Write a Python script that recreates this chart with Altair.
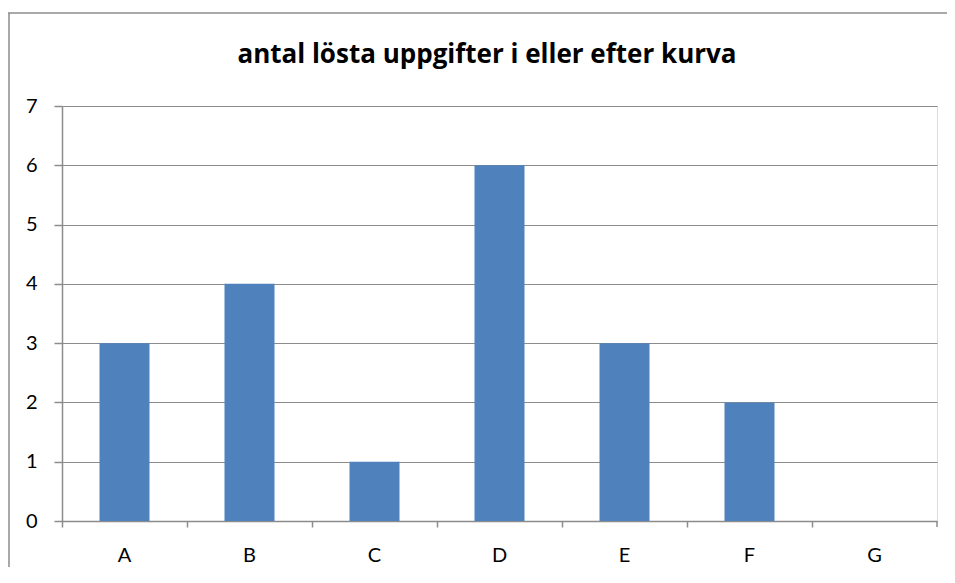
import altair as alt
import pandas as pd

categories = ["A", "B", "C", "D", "E", "F", "G"]
values = [3, 4, 1, 6, 3, 2, 0]
title_text = "antal lösta uppgifter i eller efter kurva"

df = pd.DataFrame({"kategori": categories, "antal": values})

GRAY = "#8c8c8c"
FONT = "Lato"

bars = alt.Chart(df).mark_bar(
    color="#4F81BD", width=alt.RelativeBandSize(0.4)
).encode(
    x=alt.X(
        "kategori:N",
        sort=categories,
        scale=alt.Scale(paddingInner=0, paddingOuter=0),
        axis=alt.Axis(
            title=None, labelAngle=0, bandPosition=0,
            tickSize=6, tickColor=GRAY, domainColor=GRAY, domainWidth=1.5,
            tickWidth=1.5, labelPadding=18, labelFontSize=20, labelFont=FONT,
            labelColor="black", grid=False,
        ),
    ),
    y=alt.Y(
        "antal:Q",
        scale=alt.Scale(domain=[0, 7], nice=False),
        axis=alt.Axis(
            title=None, values=[0, 1, 2, 3, 4, 5, 6, 7], format="d",
            tickSize=8, tickColor=GRAY, domainColor=GRAY, domainWidth=1.5,
            tickWidth=1.5, gridColor=GRAY, gridWidth=1.2, labelPadding=17,
            labelFontSize=20, labelFont=FONT, labelColor="black",
        ),
    ),
)

extra = pd.DataFrame({"a": [0], "t": [title_text]})
last_tick = alt.Chart(extra).mark_rule(color=GRAY, strokeWidth=1.5).encode(
    x=alt.value(875), y=alt.value(415), y2=alt.value(421)
)
border_top = alt.Chart(extra).mark_rule(color=GRAY, strokeWidth=1.5).encode(
    x=alt.value(-54), x2=alt.value(890), y=alt.value(-93)
)
border_left = alt.Chart(extra).mark_rule(color=GRAY, strokeWidth=1.5).encode(
    x=alt.value(-53), y=alt.value(-93), y2=alt.value(470)
)
title = alt.Chart(extra).mark_text(
    font="Open Sans", fontSize=26, fontWeight="bold", color="black",
    align="center", baseline="alphabetic",
).encode(
    x=alt.value(425), y=alt.value(-43), text="t:N"
)

chart = alt.layer(border_top, border_left, bars, last_tick, title).properties(
    width=875,
    height=415,
    padding={"left": 54, "top": 98, "right": 10, "bottom": 46},
    autosize=alt.AutoSizeParams(type="none"),
).configure_view(stroke=None).configure(background="white")

chart.save("out.html", embed_options={"renderer": "svg", "actions": False})
